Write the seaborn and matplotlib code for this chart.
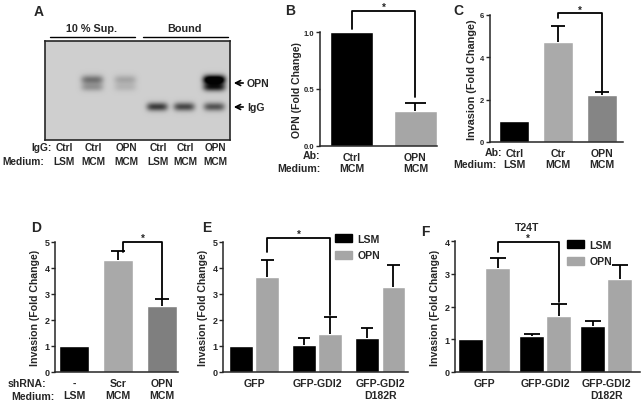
import numpy as np
import pandas as pd
import matplotlib
matplotlib.use("Agg")
import matplotlib.pyplot as plt
import seaborn as sns
from matplotlib.patches import Patch, FancyArrowPatch

sns.set_style("ticks")
plt.rcParams['font.family'] = ['Liberation Sans', 'DejaVu Sans']
plt.rcParams['font.weight'] = 'bold'
plt.rcParams['axes.labelweight'] = 'bold'
plt.rcParams['axes.linewidth'] = 1.1

# ---- data ----
# A : western blot (band intensities per lane)
blot_igg = ["Ctrl", "Ctrl", "OPN", "Ctrl", "Ctrl", "OPN"]
blot_medium = ["LSM", "MCM", "MCM", "LSM", "MCM", "MCM"]
opn_band = [0.0, 0.45, 0.2, 0.0, 0.0, 1.4]
igg_band = [0.0, 0.0, 0.0, 0.72, 0.66, 0.6]

# B
b_ab = ["Ctrl", "OPN"]
b_medium = ["MCM", "MCM"]
b_mean = [1.0, 0.31]
b_err = [0.0, 0.07]

# C
c_ab = ["Ctrl", "Ctr", "OPN"]
c_medium = ["LSM", "MCM", "MCM"]
c_mean = [1.0, 4.72, 2.2]
c_err = [0.0, 0.78, 0.14]

# D
d_shrna = ["-", "Scr", "OPN"]
d_medium = ["LSM", "MCM", "MCM"]
d_mean = [1.0, 4.29, 2.54]
d_err = [0.0, 0.35, 0.28]

# E / F
groups = ["GFP", "GFP-GDI2", "GFP-GDI2\nD182R"]
conds = ["LSM", "OPN"]
e_lsm = [1.0, 1.05, 1.29]
e_lsm_err = [0.0, 0.24, 0.39]
e_opn = [3.67, 1.47, 3.26]
e_opn_err = [0.62, 0.66, 0.87]
f_lsm = [1.0, 1.1, 1.4]
f_lsm_err = [0.0, 0.05, 0.15]
f_opn = [3.19, 1.71, 2.85]
f_opn_err = [0.30, 0.38, 0.41]

W, H = 644, 406
fig = plt.figure(figsize=(W / 100, H / 100), dpi=100)
LAB = 7.6

def ax_px(x0, y0, x1, y1):
    return fig.add_axes([x0 / W, 1 - y1 / H, (x1 - x0) / W, (y1 - y0) / H])

def txt(x, y, s, **kw):
    kw.setdefault("fontsize", LAB)
    kw.setdefault("fontweight", "bold")
    kw.setdefault("va", "center")
    fig.text(x / W, 1 - y / H, s, **kw)

def style(ax, ticks, ylim, tfs=6.5):
    sns.despine(ax=ax)
    ax.set_ylim(*ylim)
    ax.set_yticks(ticks)
    ax.tick_params(axis="y", length=3, width=1.0, labelsize=tfs, pad=1)
    ax.tick_params(axis="x", length=0)
    for t in ax.get_yticklabels():
        t.set_fontweight("bold")
    ax.set_xlabel("")
    ax.set_ylabel("")

def centers(ax):
    return [[b.get_x() + b.get_width() / 2 for b in c] for c in ax.containers]

def errs(ax, xs, means, err, half):
    xs = np.asarray(xs)
    top = np.asarray(means) + np.asarray(err)
    keep = np.asarray(err) > 0
    ax.vlines(xs[keep], np.asarray(means)[keep], top[keep], color="black", lw=1.3)
    ax.hlines(top[keep], xs[keep] - half, xs[keep] + half, color="black", lw=1.3)

def bracket(ax, x1, y1, x2, y2, ytop):
    ax.plot([x1, x1, x2, x2], [y1, ytop, ytop, y2], color="black", lw=1.3, clip_on=False)

def xlabels(ax, xs, labels, ls=1.15):
    ax.set_xticks(xs)
    ax.set_xticklabels(labels, fontsize=LAB, fontweight="bold", linespacing=ls)
    ax.tick_params(axis="x", pad=4)

# ---- A : blot ----
axA = ax_px(45, 42, 230, 141)
lane_x = [63, 92, 125, 157, 184, 214]
yy, xx = np.mgrid[42:141:0.5, 45:230:0.5]
img = np.zeros_like(xx)
for lx, a in zip(lane_x, opn_band):
    img += a * np.exp(-((xx - lx) / 11) ** 4 - ((yy - 80.5) / 4.5) ** 2)
    img += 0.6 * a * np.exp(-((xx - lx) / 11) ** 4 - ((yy - 88) / 4.0) ** 2)
for lx, a in zip(lane_x, igg_band):
    img += a * np.exp(-((xx - lx) / 10.5) ** 4 - ((yy - 107.5) / 4.2) ** 2)
img = 0.81 - 0.8 * np.clip(img, 0, 1)
axA.imshow(img, cmap="gray", vmin=0, vmax=1, aspect="auto", extent=[45, 230, 141, 42],
           interpolation="bilinear")
axA.set_xticks([]); axA.set_yticks([])
for s in axA.spines.values():
    s.set_linewidth(1.2)
txt(34, 12, "A", fontsize=10)
txt(91, 29, "10 % Sup.", ha="center", fontsize=7.8)
txt(185, 29, "Bound", ha="center", fontsize=7.8)
fig.add_artist(plt.Line2D([50 / W, 135 / W], [1 - 38 / H] * 2, color="black", lw=1))
fig.add_artist(plt.Line2D([143 / W, 228 / W], [1 - 38 / H] * 2, color="black", lw=1))
for yv, lab in [(84, "OPN"), (108, "IgG")]:
    fig.add_artist(FancyArrowPatch((246 / W, 1 - yv / H), (231 / W, 1 - yv / H),
                   arrowstyle="->", mutation_scale=9, lw=1.2, color="black"))
    txt(247, yv, lab)
txt(52, 148, "IgG:", ha="right", fontsize=7.3)
txt(44, 162, "Medium:", ha="right", fontsize=7.3)
for lx, a, m in zip(lane_x, blot_igg, blot_medium):
    txt(lx + 1, 148, a, ha="center", fontsize=7.3)
    txt(lx + 1, 162, m, ha="center", fontsize=7.3)

# ---- B ----
axB = ax_px(320, 33, 437, 147)
dB = pd.DataFrame({"k": ["c0", "c1"], "v": b_mean})
sns.barplot(data=dB, x="k", y="v", hue="k", palette=["black", "#a6a6a6"], width=0.68,
            legend=False, ax=axB)
style(axB, [0, 0.5, 1.0], (0, 1.0), tfs=5.5)
axB.set_yticklabels(["0.0", "0.5", "1.0"], fontweight="bold")
axB.set_xlim(-0.5, 1.34)
xb = [c[0] for c in centers(axB)]
errs(axB, xb, b_mean, b_err, 0.17)
xlabels(axB, xb, [f"{a}\n{m}" for a, m in zip(b_ab, b_medium)])
bracket(axB, xb[0], 1.03, xb[1], 0.43, 1.18)
axB.text((xb[0] + xb[1]) / 2, 1.19, "*", ha="center", fontsize=7)
axB.set_ylabel("OPN (Fold Change)", fontsize=LAB, labelpad=1)
txt(290, 11, "B", fontsize=10, ha="center")
txt(320, 156, "Ab:", ha="right")
txt(320, 169, "Medium:", ha="right")

# ---- C ----
axC = ax_px(490, 16, 623, 143)
dC = pd.DataFrame({"k": ["c0", "c1", "c2"], "v": c_mean})
sns.barplot(data=dC, x="k", y="v", hue="k", palette=["black", "#aaaaaa", "#858585"], width=0.69,
            legend=False, ax=axC)
style(axC, [0, 2, 4, 6], (0, 6), tfs=5.5)
axC.set_xlim(-0.56, 2.49)
xc = [c[0] for c in centers(axC)]
errs(axC, xc, c_mean, c_err, 0.16)
xlabels(axC, xc, [f"{a}\n{m}" for a, m in zip(c_ab, c_medium)])
bracket(axC, xc[1], 5.85, xc[2], 2.38, 6.08)
axC.text((xc[1] + xc[2]) / 2, 6.1, "*", ha="center", fontsize=7)
axC.set_ylabel("Invasion (Fold Change)", fontsize=7.8, labelpad=2)
txt(458, 11, "C", fontsize=10, ha="center")
txt(502, 153, "Ab:", ha="right")
txt(496, 165, "Medium:", ha="right")

# ---- D ----
axD = ax_px(55, 243, 178, 373)
dD = pd.DataFrame({"k": ["c0", "c1", "c2"], "v": d_mean})
sns.barplot(data=dD, x="k", y="v", hue="k", palette=["black", "#a9a9a9", "#7f7f7f"], width=0.68,
            legend=False, ax=axD)
style(axD, [0, 1, 2, 3, 4, 5], (0, 5), tfs=6.5)
axD.set_xlim(-0.43, 2.36)
xd = [c[0] for c in centers(axD)]
errs(axD, xd, d_mean, d_err, 0.16)
xlabels(axD, xd, [f"{a}\n{m}" for a, m in zip(d_shrna, d_medium)], ls=1.25)
bracket(axD, xd[1] + 0.12, 4.62, xd[2], 2.82, 5.0)
axD.text((xd[1] + xd[2]) / 2 + 0.06, 5.05, "*", ha="center", fontsize=7)
axD.set_ylabel("Invasion (Fold Change)", fontsize=LAB, labelpad=3)
txt(36, 228, "D", fontsize=10, ha="center")
txt(46, 384, "shRNA:", ha="right")
txt(54, 397, "Medium:", ha="right")

# ---- E / F ----
def grouped(box, lsm, lsm_err, opn, opn_err, ylim, ticks, xlim, width, gap, half,
            br, leg_xy, letter, title=None):
    ax = ax_px(*box)
    df = pd.DataFrame({"g": groups * 2, "c": ["LSM"] * 3 + ["OPN"] * 3, "v": lsm + opn})
    sns.barplot(data=df, x="g", y="v", hue="c", order=groups, hue_order=conds,
                palette={"LSM": "black", "OPN": "#a6a6a6"}, width=width, gap=gap,
                legend=False, ax=ax)
    style(ax, ticks, ylim, tfs=6.5)
    ax.set_xlim(*xlim)
    cx = centers(ax)
    errs(ax, cx[0], lsm, lsm_err, half)
    errs(ax, cx[1], opn, opn_err, half)
    xlabels(ax, range(len(groups)), groups, ls=1.25)
    y1, y2, yt = br
    bracket(ax, cx[1][0], y1, cx[1][1], y2, yt)
    ax.text((cx[1][0] + cx[1][1]) / 2, yt + 0.01 * ylim[1], "*", ha="center", fontsize=7)
    ax.set_ylabel("Invasion (Fold Change)", fontsize=LAB, labelpad=3)
    handles = [Patch(facecolor="black", edgecolor="black"), Patch(facecolor="#a6a6a6", edgecolor="#a6a6a6")]
    ax.legend(handles, conds, loc="upper left", bbox_to_anchor=(leg_xy[0] / W, 1 - leg_xy[1] / H),
              bbox_transform=fig.transFigure, frameon=False, prop={"size": LAB, "weight": "bold"},
              handlelength=1.6, handleheight=0.8, handletextpad=0.5, labelspacing=0.6,
              borderpad=0, borderaxespad=0)
    txt(letter[0], letter[1], letter[2], fontsize=10, ha="center")
    if title:
        txt(title[0], title[1], title[2], ha="center")
    return ax

grouped((223, 243, 408, 373), e_lsm, e_lsm_err, e_opn, e_opn_err, (0, 5), [0, 1, 2, 3, 4, 5],
        (-0.49, 2.44), 0.84, 0.1, 0.1, (4.6, 2.2, 5.15), (335, 235), (207, 228, "E"))
grouped((455, 242, 640, 373), f_lsm, f_lsm_err, f_opn, f_opn_err, (0, 4), [0, 1, 2, 3, 4],
        (-0.48, 2.55), 0.88, 0.07, 0.13, (3.66, 2.13, 3.96), (567, 241), (425, 232, "F"),
        title=(527, 228, "T24T"))

fig.savefig("out.png", dpi=100)
